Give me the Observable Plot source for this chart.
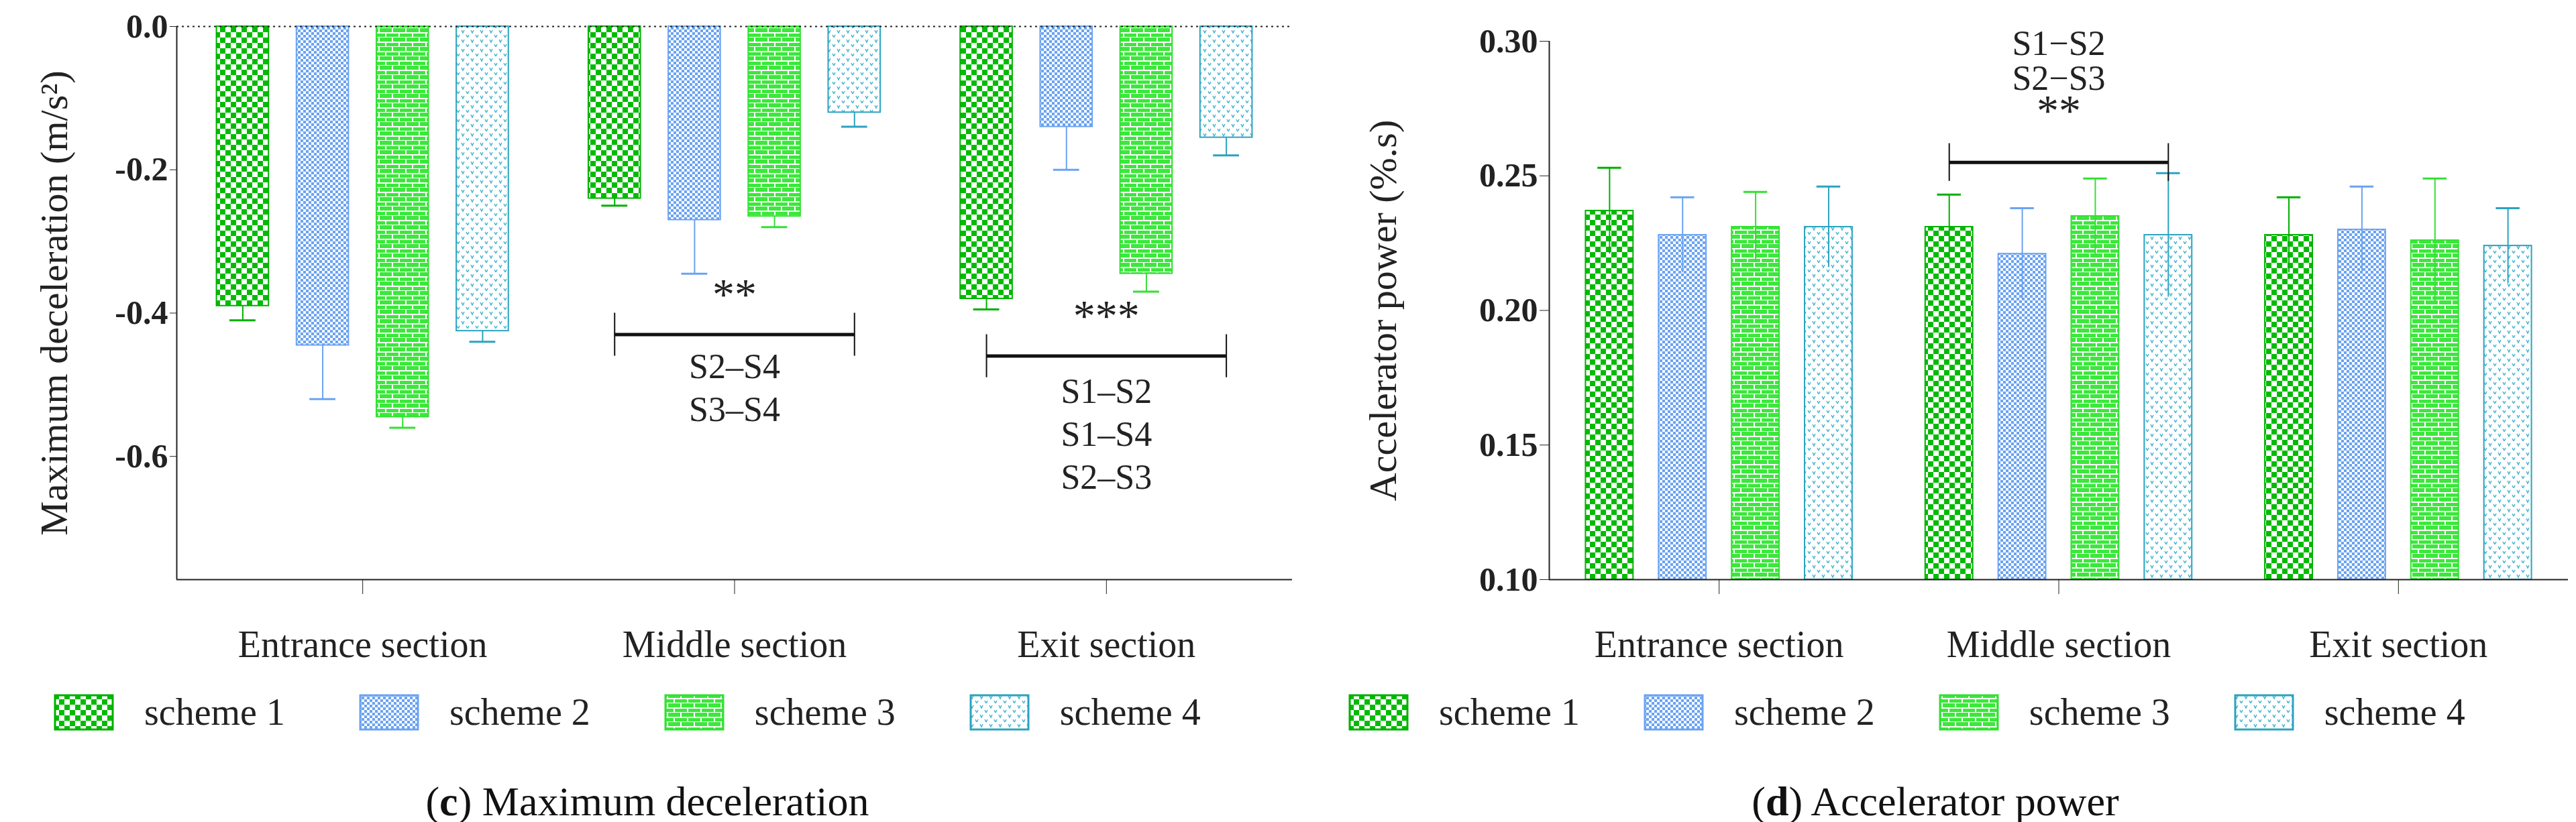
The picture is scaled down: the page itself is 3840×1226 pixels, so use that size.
<!DOCTYPE html>
<html><head><meta charset="utf-8">
<script src="https://cdn.jsdelivr.net/npm/d3@7"></script>
<script src="https://cdn.jsdelivr.net/npm/@observablehq/plot@0.6"></script>
<style>
body{margin:0;background:#fff;font-family:"Liberation Serif",serif;}
#wrap{display:flex;width:3840px;height:1226px;}
.panel{position:relative;}
.legend{position:absolute;top:1030px;display:flex;font-size:56px;color:#222;align-items:center;}
.legend .it{display:flex;align-items:center;}
.legend svg{margin-right:45px;}
.cap{position:absolute;top:1160px;width:100%;text-align:center;font-size:62px;color:#111;}
</style></head><body>
<svg width="0" height="0" style="position:absolute">
<defs>
<pattern id="p1" width="16" height="16" patternUnits="userSpaceOnUse"><rect width="16" height="16" fill="#fff"/><rect width="8" height="8" fill="#00bb00"/><rect x="8" y="8" width="8" height="8" fill="#00bb00"/></pattern>
<pattern id="p2" width="8" height="8" patternUnits="userSpaceOnUse"><rect width="8" height="8" fill="#fff"/><rect width="4" height="4" fill="#6aa3f2"/><rect x="4" y="4" width="4" height="4" fill="#6aa3f2"/></pattern>
<pattern id="p3" width="20" height="14" patternUnits="userSpaceOnUse"><rect width="20" height="14" fill="#3be83b"/><rect x="0" y="6" width="20" height="2" fill="#fff"/><rect x="0" y="13" width="20" height="1" fill="#fff"/><rect x="4" y="0" width="2" height="6" fill="#fff"/><rect x="14" y="7" width="2" height="6" fill="#fff"/></pattern>
<pattern id="p4" width="14" height="14" patternUnits="userSpaceOnUse"><rect width="14" height="14" fill="#fff"/><path d="M2,3 L4,7 L6,3 M9,10 L11,14 L13,10" stroke="#45b5d0" stroke-width="1.5" fill="none"/></pattern>
</defs></svg>
<div id="wrap"><div class="panel" id="L" style="width:1930px"></div><div class="panel" id="R" style="width:1910px"></div></div>
<script>
const sections=["Entrance section","Middle section","Exit section"];
const schemes=["scheme 1","scheme 2","scheme 3","scheme 4"];
const fills=["url(#p1)","url(#p2)","url(#p3)","url(#p4)"];
const strokes=["#00b000","#6aa3f2","#33e033","#2aa3c0"];
const decelMean=[[-0.39,-0.445,-0.545,-0.425],[-0.24,-0.27,-0.265,-0.12],[-0.38,-0.14,-0.345,-0.155]];
const decelErr=[[-0.41,-0.52,-0.56,-0.44],[-0.25,-0.345,-0.28,-0.14],[-0.395,-0.20,-0.37,-0.18]];
const powMean=[[0.237,0.228,0.231,0.231],[0.231,0.221,0.235,0.228],[0.228,0.230,0.226,0.224]];
const powErr=[[0.016,0.014,0.013,0.015],[0.012,0.017,0.014,0.023],[0.014,0.016,0.023,0.014]];
const W=0.14, step=0.215;
function rows(mean,errFn){const r=[];mean.forEach((m,si)=>m.forEach((v,k)=>{const c=si+(k-1.5)*step;r.push({c,x1:c-W/2,x2:c+W/2,v,k,...errFn(si,k,v)});}));return r;}
const dL=rows(decelMean,(si,k,v)=>({e1:v,e2:decelErr[si][k]}));
const dR=rows(powMean,(si,k,v)=>({e1:v-powErr[si][k],e2:v+powErr[si][k]}));
const cx=(si,k)=>si+(k-1.5)*step;
const fs="font-family:'Liberation Serif',serif;";
const common=(d,base)=>[
  Plot.rectY(d,{x1:"x1",x2:"x2",y1:base,y2:"v",fill:r=>fills[r.k],stroke:r=>strokes[r.k],strokeWidth:2}),
  Plot.ruleX(d,{x:"c",y1:"e1",y2:"e2",stroke:r=>strokes[r.k],strokeWidth:2}),
  Plot.ruleY(d,{x1:r=>r.c-0.035,x2:r=>r.c+0.035,y:"e2",stroke:r=>strokes[r.k],strokeWidth:3})];
const txtMark=(t)=>Plot.text(t,{x:"x",y:"y",text:"t",fontSize:d=>d.s?66:52,fontWeight:d=>d.s?"bold":"normal",fill:"#222",fontFamily:d=>d.s?"DejaVu Sans":"Liberation Serif"});
// Left
const ann1=[{x1:cx(1,0),x2:cx(1,3),y:-0.43},{x1:cx(2,0),x2:cx(2,3),y:-0.46}];
const txt1=[{x:1,y:-0.375,t:"**",s:1},{x:1,y:-0.475,t:"S2–S4"},{x:1,y:-0.535,t:"S3–S4"},{x:2,y:-0.405,t:"***",s:1},{x:2,y:-0.51,t:"S1–S2"},{x:2,y:-0.57,t:"S1–S4"},{x:2,y:-0.63,t:"S2–S3"}];
const L=Plot.plot({width:1930,height:990,marginLeft:263,marginRight:4,marginTop:39,marginBottom:126,
 style:"font-size:40px;color:#222;"+fs,
 x:{type:"linear",domain:[-0.5,2.5],ticks:[0,1,2],tickFormat:i=>sections[i],tickSize:22,label:null},
 y:{domain:[-0.772,0],ticks:[0,-0.2,-0.4,-0.6],tickFormat:d=>d.toFixed(1),tickSize:10,label:"Maximum deceleration (m/s²)",labelAnchor:"center",labelArrow:"none",labelOffset:205},
 marks:[...common(dL,0),
  Plot.ruleY([0],{stroke:"#222",strokeWidth:2,strokeDasharray:"3,5"}),
  Plot.ruleX([-0.5],{stroke:"#222",strokeWidth:2}),Plot.ruleY([-0.772],{stroke:"#222",strokeWidth:2}),
  Plot.ruleY(ann1,{x1:"x1",x2:"x2",y:"y",stroke:"#111",strokeWidth:5}),
  Plot.ruleX(ann1.flatMap(a=>[{x:a.x1,y:a.y},{x:a.x2,y:a.y}]),{x:"x",y1:d=>d.y-0.03,y2:d=>d.y+0.03,stroke:"#111",strokeWidth:2}),
  txtMark(txt1)]});
// Right
const txt2=[{x:1,y:0.299,t:"S1−S2"},{x:1,y:0.286,t:"S2−S3"},{x:1,y:0.274,t:"**",s:1}];
const R=Plot.plot({width:1910,height:990,marginLeft:379,marginRight:12,marginTop:61,marginBottom:126,
 style:"font-size:40px;color:#222;"+fs,
 x:{type:"linear",domain:[-0.5,2.5],ticks:[0,1,2],tickFormat:i=>sections[i],tickSize:22,label:null},
 y:{domain:[0.1,0.3],ticks:[0.1,0.15,0.2,0.25,0.3],tickFormat:d=>d.toFixed(2),tickSize:14,label:"Accelerator power (%.s)",labelAnchor:"center",labelArrow:"none",labelOffset:270},
 marks:[...common(dR,0.1),
  Plot.ruleX([-0.5],{stroke:"#222",strokeWidth:2}),Plot.ruleY([0.1],{stroke:"#222",strokeWidth:2}),
  Plot.ruleY([{x1:cx(1,0),x2:cx(1,3),y:0.255}],{x1:"x1",x2:"x2",y:"y",stroke:"#111",strokeWidth:5}),
  Plot.ruleX([cx(1,0),cx(1,3)],{x:d=>d,y1:0.248,y2:0.262,stroke:"#111",strokeWidth:2}),
  txtMark(txt2)]});
for(const [el,svg] of [["L",L],["R",R]]){
  d3.select(svg).selectAll("[aria-label='y-axis tick label'] text").attr("font-weight","bold").attr("font-size",50);
  d3.select(svg).selectAll("[aria-label='y-axis label'] text").attr("font-size",58);
  d3.select(svg).selectAll("[aria-label='x-axis tick label'] text").attr("font-size",56).attr("dy","0.9em");
  const p=document.getElementById(el);p.appendChild(svg);
  const lg=document.createElement("div");lg.className="legend";lg.style.left=el==="L"?"80px":"80px";
  schemes.forEach((s,i)=>{lg.innerHTML+=`<div class="it" style="margin-right:${el==="L"?110:95}px"><svg width="90" height="55"><rect x="2" y="2" width="86" height="51" fill="${fills[i]}" stroke="${strokes[i]}" stroke-width="3"/></svg>${s}</div>`;});
  p.appendChild(lg);
  const c=document.createElement("div");c.className="cap";
  c.innerHTML=el==="L"?"(<b>c</b>) Maximum deceleration":"(<b>d</b>) Accelerator power";
  p.appendChild(c);
}
</script></body></html>
